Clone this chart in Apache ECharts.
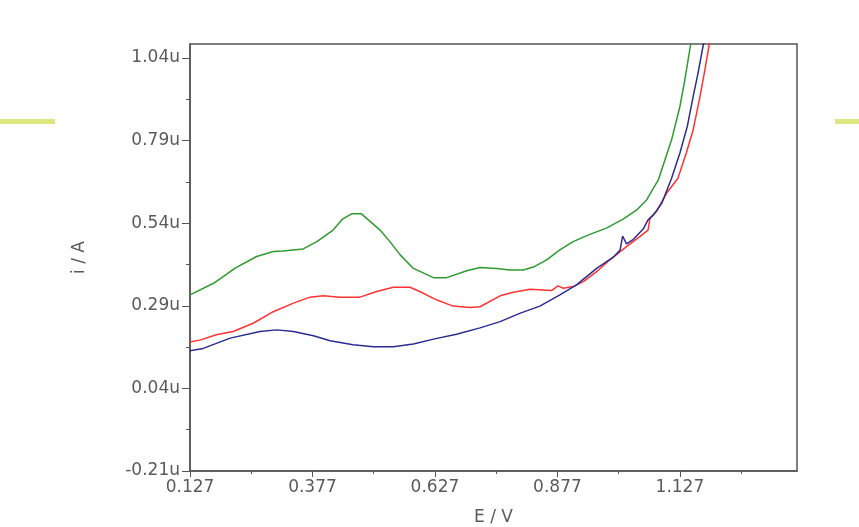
<!DOCTYPE html>
<html>
<head>
<meta charset="UTF-8">
<title>i / A vs E / V</title>
<script src="https://cdn.jsdelivr.net/npm/echarts@6/dist/echarts.min.js"></script>
<style>
  html, body { margin: 0; padding: 0; background: #fff; }
  #main { width: 859px; height: 527px; }
</style>
</head>
<body>
<div id="main"></div>
<script type="text/javascript">
// potentials (V) and currents (uA)
var greenE = [0.127, 0.175, 0.202, 0.219, 0.263, 0.297, 0.317, 0.358, 0.386, 0.419, 0.439, 0.457, 0.477,
    0.515, 0.535, 0.556, 0.583, 0.624, 0.651, 0.692, 0.719, 0.753, 0.780, 0.807, 0.828, 0.855, 0.882,
    0.909, 0.943, 0.977, 1.011, 1.039, 1.059, 1.073, 1.083, 1.093, 1.110, 1.127, 1.137, 1.149, 1.154];
var greenI = [0.323, 0.358, 0.386, 0.404, 0.439, 0.454, 0.456, 0.462, 0.484, 0.519, 0.553, 0.568, 0.568,
    0.519, 0.484, 0.444, 0.403, 0.375, 0.375, 0.396, 0.406, 0.403, 0.398, 0.398, 0.407, 0.429, 0.459,
    0.484, 0.506, 0.525, 0.552, 0.580, 0.610, 0.646, 0.671, 0.716, 0.792, 0.893, 0.973, 1.082, 1.125];

var redE = [0.127, 0.147, 0.181, 0.215, 0.256, 0.297, 0.338, 0.372, 0.399, 0.433, 0.474, 0.508, 0.542,
    0.576, 0.596, 0.630, 0.664, 0.698, 0.719, 0.760, 0.787, 0.821, 0.865, 0.878, 0.889, 0.909, 0.930,
    0.957, 0.984, 1.018, 1.045, 1.062, 1.066, 1.079, 1.100, 1.123, 1.140, 1.154, 1.168, 1.178, 1.187, 1.192];
var redI = [0.180, 0.186, 0.202, 0.212, 0.237, 0.272, 0.298, 0.316, 0.320, 0.316, 0.316, 0.333, 0.346,
    0.346, 0.333, 0.308, 0.289, 0.285, 0.287, 0.320, 0.331, 0.340, 0.336, 0.350, 0.343, 0.348, 0.363,
    0.393, 0.429, 0.469, 0.499, 0.519, 0.555, 0.575, 0.631, 0.676, 0.752, 0.822, 0.923, 1.004, 1.082, 1.125];

var blueE = [0.127, 0.154, 0.209, 0.270, 0.304, 0.338, 0.379, 0.413, 0.460, 0.501, 0.542, 0.583, 0.624,
    0.671, 0.719, 0.760, 0.800, 0.841, 0.882, 0.916, 0.957, 0.991, 1.005, 1.010, 1.018, 1.032, 1.052,
    1.062, 1.073, 1.090, 1.110, 1.127, 1.142, 1.154, 1.164, 1.175, 1.180];
var blueI = [0.154, 0.161, 0.192, 0.212, 0.217, 0.212, 0.199, 0.184, 0.172, 0.166, 0.166, 0.174, 0.189,
    0.204, 0.223, 0.242, 0.267, 0.289, 0.323, 0.353, 0.403, 0.437, 0.459, 0.501, 0.477, 0.491, 0.522,
    0.550, 0.565, 0.600, 0.676, 0.752, 0.832, 0.923, 0.994, 1.082, 1.125];

var xTicks = [0.127, 0.377, 0.627, 0.877, 1.127];
var xMinorTicks = [0.252, 0.502, 0.752, 1.002, 1.252];
var yTicks = [-0.21, 0.04, 0.29, 0.54, 0.79, 1.04];
var yMinorTicks = [-0.085, 0.165, 0.415, 0.665, 0.915];

function pairs(xs, ys) {
    var out = [];
    for (var k = 0; k < xs.length; k++) out.push([xs[k], ys[k]]);
    return out;
}

var myChart = echarts.init(document.getElementById('main'), null, { renderer: 'canvas' });

var axisColor = '#555';
var textColor = '#5a5a5a';
var font = 'DejaVu Sans';
var fontSize = 17;

var option = {
    backgroundColor: '#fff',
    animation: false,
    grid: {
        left: 190, top: 44, right: 62, bottom: 56,
        outerBoundsMode: 'none',
        containLabel: false,
        show: true, borderColor: axisColor, borderWidth: 1.5
    },
    graphic: [
        { type: 'rect', shape: { x: 0, y: 119, width: 55, height: 5 }, style: { fill: '#dbe67e' } },
        { type: 'rect', shape: { x: 835, y: 119, width: 24, height: 5 }, style: { fill: '#dbe67e' } }
    ],
    xAxis: [{
        type: 'value',
        min: 0.127, max: 1.366,
        name: 'E / V',
        nameLocation: 'middle',
        nameGap: 38,
        nameTextStyle: { color: textColor, fontFamily: font, fontSize: fontSize },
        axisLine: { show: true, onZero: false, lineStyle: { color: axisColor, width: 1.5 } },
        axisTick: { show: true, customValues: xTicks, length: 6, lineStyle: { color: axisColor } },
        axisLabel: {
            customValues: xTicks, margin: 8,
            color: textColor, fontFamily: font, fontSize: fontSize,
            formatter: function (v) { return v.toFixed(3); }
        },
        splitLine: { show: false }
    }, {
        type: 'value',
        position: 'bottom',
        min: 0.127, max: 1.366,
        axisLine: { show: false, onZero: false },
        axisTick: { show: true, customValues: xMinorTicks, length: 3, lineStyle: { color: axisColor } },
        axisLabel: { show: false },
        splitLine: { show: false }
    }],
    yAxis: [{
        type: 'value',
        min: -0.21, max: 1.082,
        name: 'i / A',
        nameLocation: 'middle',
        nameGap: 102,
        nameTextStyle: { color: textColor, fontFamily: font, fontSize: fontSize },
        axisLine: { show: true, onZero: false, lineStyle: { color: axisColor, width: 1.5 } },
        axisTick: { show: true, customValues: yTicks, length: 8, lineStyle: { color: axisColor } },
        axisLabel: {
            customValues: yTicks, margin: 10,
            color: textColor, fontFamily: font, fontSize: fontSize,
            formatter: function (v) { return v.toFixed(2) + 'u'; }
        },
        splitLine: { show: false }
    }, {
        type: 'value',
        position: 'left',
        min: -0.21, max: 1.082,
        axisLine: { show: false, onZero: false },
        axisTick: { show: true, customValues: yMinorTicks, length: 4, lineStyle: { color: axisColor } },
        axisLabel: { show: false },
        splitLine: { show: false }
    }],
    series: [{
        name: 'green', type: 'line', symbol: 'none', clip: true,
        lineStyle: { color: '#2f9a2f', width: 1.5 },
        data: pairs(greenE, greenI)
    }, {
        name: 'red', type: 'line', symbol: 'none', clip: true,
        lineStyle: { color: '#ff3333', width: 1.5 },
        data: pairs(redE, redI)
    }, {
        name: 'blue', type: 'line', symbol: 'none', clip: true,
        lineStyle: { color: '#2b2b92', width: 1.5 },
        data: pairs(blueE, blueI)
    }]
};

myChart.setOption(option);
</script>
</body>
</html>
